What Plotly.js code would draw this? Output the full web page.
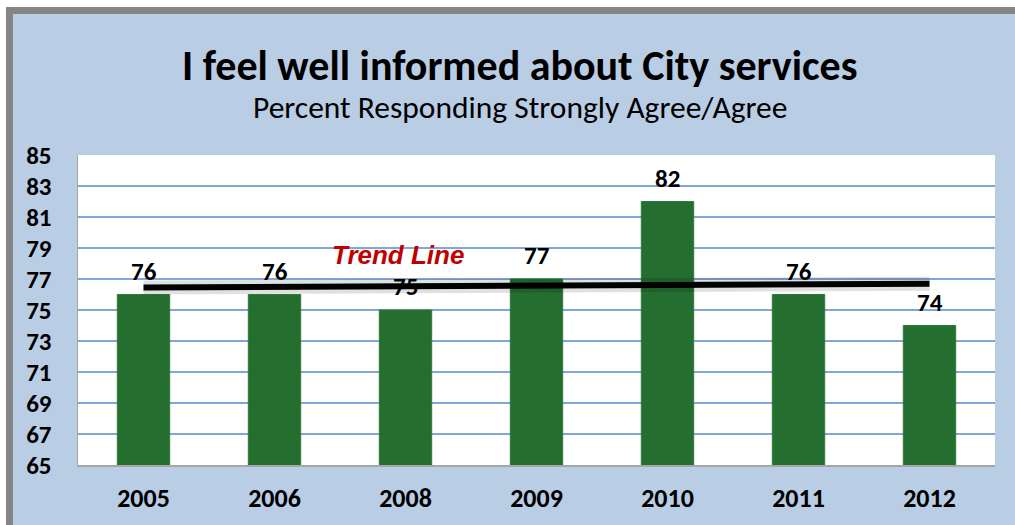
<!DOCTYPE html>
<html>
<head>
<meta charset="utf-8">
<script src="https://cdn.plot.ly/plotly-3.0.1.min.js"></script>
<style>
  html, body { margin: 0; padding: 0; background: #ffffff; overflow: hidden; }
  #frame { position: absolute; left: 6px; top: 7px; width: 1009px; height: 518px;
           border-left: 7px solid #858585; border-top: 7px solid #858585; box-sizing: border-box;
           background: #B9CDE5; }
  #chart { width: 1002px; height: 511px; }
</style>
</head>
<body>
<div id="frame"><div id="chart"></div></div>
<script>
// ---- data ----
const years = ['2005', '2006', '2008', '2009', '2010', '2011', '2012'];
const percentAgree = [76, 76, 75, 77, 82, 76, 74];
const trendYears = ['2005', '2012'];
const trendValues = [76.45, 76.7];   // trend line end points
const yTicks = [65, 67, 69, 71, 73, 75, 77, 79, 81, 83, 85];

const titleText = 'I feel well informed about City services';
const subtitleText = 'Percent Responding Strongly Agree/Agree';
const trendLabel = 'Trend Line';

// ---- styles ----
const FONT = "Carlito, 'Open Sans', 'Noto Sans', sans-serif";
const barColor = '#246E30';

const traces = [
  {
    type: 'bar', x: years, y: percentAgree,
    marker: { color: barColor, line: { color: '#2E7A3A', width: 1 } },
    hoverinfo: 'x+y', showlegend: false
  },
  {
    type: 'scatter', mode: 'lines', x: trendYears, y: trendValues,
    line: { color: 'rgba(0,0,0,0.12)', width: 14 }, hoverinfo: 'skip', showlegend: false
  },
  {
    type: 'scatter', mode: 'lines', x: trendYears, y: trendValues,
    line: { color: '#000000', width: 6 }, hoverinfo: 'skip', showlegend: false
  }
];

const annotations = percentAgree.map((v, i) => ({
  x: i, y: v, xref: 'x', yref: 'y', text: String(v),
  showarrow: false, yanchor: 'bottom', yshift: 6,
  font: { family: FONT, size: 25, color: '#000000', weight: 'bold' }
}));

annotations.push(
  { xref: 'paper', yref: 'paper', x: 0.482, y: 1.29, text: titleText, showarrow: false,
    xanchor: 'center', yanchor: 'middle',
    font: { family: FONT, size: 42, color: '#000000', weight: 'bold' } },
  { xref: 'paper', yref: 'paper', x: 0.482, y: 1.155, text: subtitleText, showarrow: false,
    xanchor: 'center', yanchor: 'middle',
    font: { family: FONT, size: 31.5, color: '#000000' } },
  { xref: 'paper', yref: 'paper', x: 0.349, y: 0.677, text: trendLabel, showarrow: false,
    xanchor: 'center', yanchor: 'middle',
    font: { family: "'Liberation Sans', Arial, sans-serif", size: 26, color: '#C00000',
            weight: 'bold', style: 'italic' } }
);

const layout = {
  width: 1002, height: 511,
  margin: { l: 65, r: 20, t: 141, b: 60 },
  paper_bgcolor: 'rgba(0,0,0,0)',
  plot_bgcolor: '#FFFFFF',
  bargap: 0.6,
  showlegend: false,
  xaxis: {
    type: 'category',
    showgrid: false, zeroline: false,
    showline: true, linecolor: '#A6A6A6', linewidth: 1.5,
    ticks: '', ticklabelstandoff: 9,
    tickfont: { family: FONT, size: 26, color: '#000000', weight: 'bold' }
  },
  yaxis: {
    range: [65, 85], tickvals: yTicks, ticktext: yTicks.map(String),
    showgrid: true, gridcolor: '#7FA7D9', gridwidth: 1.2, zeroline: false,
    showline: true, linecolor: '#A6A6A6', linewidth: 1.5,
    ticks: '', ticklabelstandoff: 20,
    tickfont: { family: FONT, size: 25, color: '#000000', weight: 'bold' }
  },
  annotations: annotations
};

Plotly.newPlot('chart', traces, layout, { displayModeBar: false, staticPlot: true });
</script>
</body>
</html>
